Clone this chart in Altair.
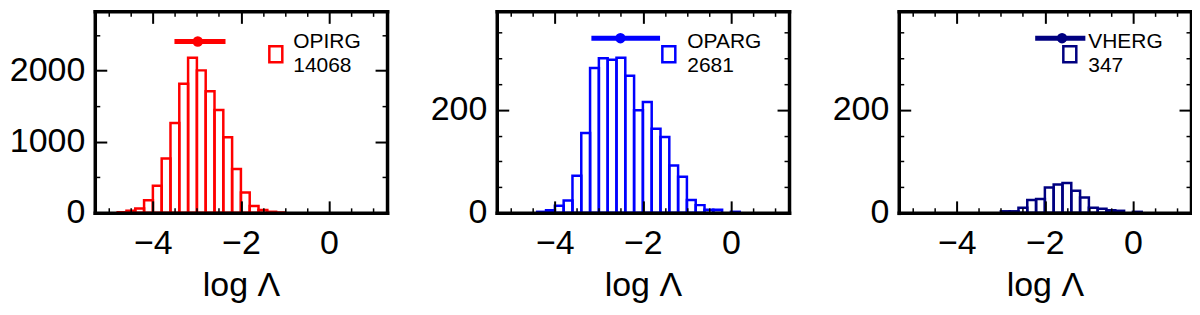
import altair as alt
import pandas as pd

# ---------------- data ----------------
names = ["OPIRG", "OPARG", "VHERG"]
totals = [14068, 2681, 347]
colors = ["#ff0000", "#0000ff", "#000080"]
bin_width = 0.2

opirg_start = [-4.8, -4.6, -4.4, -4.2, -4.0, -3.8, -3.6, -3.4, -3.2, -3.0,
               -2.8, -2.6, -2.4, -2.2, -2.0, -1.8, -1.6, -1.4, -1.2]
opirg_count = [8, 30, 60, 177, 380, 765, 1263, 1815, 2180, 2004,
               1710, 1445, 1062, 617, 285, 95, 40, 15, 5]

oparg_start = [-4.4, -4.2, -4.0, -3.8, -3.6, -3.4, -3.2, -3.0, -2.8, -2.6,
               -2.4, -2.2, -2.0, -1.8, -1.6, -1.4, -1.2, -1.0, -0.8, -0.6,
               -0.4, 0.0]
oparg_count = [2, 5, 14, 24, 72, 155, 281, 300, 297, 301,
               266, 199, 215, 163, 147, 92, 70, 25, 15, 6,
               6, 2]

vherg_start = [-3.0, -2.8, -2.6, -2.4, -2.2, -2.0, -1.8, -1.6, -1.4, -1.2,
               -1.0, -0.8, -0.6, -0.4, 0.0]
vherg_count = [3, 3, 10, 25, 27, 49, 55, 58, 43, 30,
               10, 8, 5, 4, 2]

err_center = [-2.98, -2.51, -1.61]
err_low = [-3.51, -3.17, -2.22]
err_high = [-2.35, -1.61, -1.08]
err_y = [2410, 339, 339]

x_domain = [-5.32, 1.32]
y_max = [2834, 391, 391]
x_label_values = [-4, -2, 0]
x_major_ticks = [-4, -2, 0]
x_minor_ticks = [-5.0, -4.5, -3.5, -3.0, -2.5, -1.5, -1.0, -0.5, 0.5, 1.0]
y_label_values = [[0, 1000, 2000], [0, 200], [0, 200]]
y_major_ticks = [[0, 1000, 2000], [0, 200], [0, 200]]
y_minor_ticks = [[500, 1500, 2500],
                 [50, 100, 150, 250, 300, 350],
                 [50, 100, 150, 250, 300, 350]]
x_title = "log Λ"

# ---------------- styling ----------------
W, H = 293, 202
FONT = "Liberation Sans"
FRAME = 3.5
MAJOR, MINOR = 12, 5


def tick_axis(orient, offset, values, size, width, domain):
    return alt.Axis(
        orient=orient, offset=offset, values=values, labels=False, ticks=True,
        tickSize=size, tickWidth=width, tickColor="black",
        domain=domain, domainWidth=FRAME, domainColor="black", domainCap="square",
        grid=False, title=None, minExtent=0, maxExtent=0, zindex=1,
    )


def panel(i, starts, counts):
    df = pd.DataFrame({"start": starts, "count": counts})
    base = alt.Chart(df).transform_calculate(
        end=f"datum.start + {bin_width}", zero="0"
    )
    xs = alt.Scale(domain=x_domain, nice=False, zero=False)
    ys = alt.Scale(domain=[0, y_max[i]], nice=False, zero=False)

    bars = base.mark_rect(filled=False, stroke=colors[i], strokeWidth=2.5).encode(
        x=alt.X("start:Q", scale=xs, axis=alt.Axis(
            orient="bottom", values=x_label_values, format="d", ticks=False, tickSize=0,
            labelPadding=14, labelFont=FONT, labelFontSize=34, labelColor="black",
            domain=True, domainWidth=FRAME, domainColor="black", domainCap="square",
            grid=False, title=x_title, titleFont=FONT, titleFontSize=34,
            titleFontWeight="normal", titleColor="black", titlePadding=8, zindex=1)),
        x2="end:Q",
        y=alt.Y("count:Q", scale=ys, axis=alt.Axis(
            orient="left", values=y_label_values[i], format="d", ticks=False, tickSize=0,
            labelPadding=10, labelFont=FONT, labelFontSize=34, labelColor="black",
            domain=True, domainWidth=FRAME, domainColor="black", domainCap="square",
            grid=False, title=None, zindex=1)),
        y2="zero:Q",
    )

    def tick_layer(xo, yo, xv, yv, size, width, domain):
        return base.mark_point(opacity=0).encode(
            x=alt.X("start:Q", scale=xs, axis=tick_axis(xo, -H, xv, size, width, domain)),
            y=alt.Y("count:Q", scale=ys, axis=tick_axis(yo, -W, yv, size, width, domain)),
        )

    # inward ticks at bottom/left (orient top/right moved across the plot)
    t1 = tick_layer("top", "right", x_major_ticks, y_major_ticks[i], MAJOR, 2, False)
    t2 = tick_layer("top", "right", x_minor_ticks, y_minor_ticks[i], MINOR, 1.5, False)
    # inward ticks at top/right, with the top and right frame lines
    t3 = tick_layer("bottom", "left", x_major_ticks, y_major_ticks[i], MAJOR, 2, True)
    t4 = tick_layer("bottom", "left", x_minor_ticks, y_minor_ticks[i], MINOR, 1.5, False)

    err_df = pd.DataFrame({"lo": [err_low[i]], "hi": [err_high[i]],
                           "c": [err_center[i]], "y": [err_y[i]]})
    err = alt.Chart(err_df).mark_rule(strokeWidth=5, color=colors[i], strokeCap="butt").encode(
        x=alt.X("lo:Q", scale=xs, axis=None), x2="hi:Q",
        y=alt.Y("y:Q", scale=ys, axis=None),
    )
    dot = alt.Chart(err_df).mark_circle(size=110, opacity=1, color=colors[i]).encode(
        x=alt.X("c:Q", scale=xs, axis=None),
        y=alt.Y("y:Q", scale=ys, axis=None),
    )

    sq_x = [175, 166, 165][i]
    tx = [199, 191, 190][i]
    leg_df = pd.DataFrame({"label": [f"{names[i]}\n{totals[i]}"]})
    square = alt.Chart(leg_df).mark_rect(filled=False, stroke=colors[i], strokeWidth=2.5).encode(
        x=alt.value(sq_x), x2=alt.value(sq_x + 13), y=alt.value(35), y2=alt.value(51),
    )
    text = alt.Chart(leg_df).mark_text(
        align="left", baseline="alphabetic", font=FONT, fontSize=21,
        lineBreak="\n", lineHeight=24, color="black",
    ).encode(x=alt.value(tx), y=alt.value(37), text="label:N")

    return alt.layer(bars, err, dot, square, text, t1, t2, t3, t4).resolve_axis(
        x="independent", y="independent"
    ).properties(width=W, height=H)


p1 = panel(0, opirg_start, opirg_count)
p2 = panel(1, oparg_start, oparg_count)
p3 = panel(2, vherg_start, vherg_count)

chart = alt.hconcat(p1, p2, p3, spacing=110, bounds="flush").properties(
    padding={"left": 1, "top": 2, "right": 0, "bottom": 0}
).configure_view(strokeWidth=0)

chart.save("out.html", embed_options={"renderer": "svg", "actions": False})
